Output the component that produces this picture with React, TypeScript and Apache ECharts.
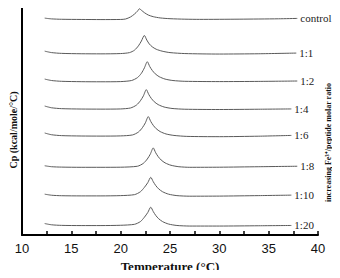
import React, { useEffect, useRef } from "react";
import * as echarts from "echarts";

// Cp traces (arbitrary stacked Cp units), [temperature °C, Cp]
const seriesNames = ["control", "1:1", "1:2", "1:4", "1:6", "1:8", "1:10", "1:20"];

const control: number[][] = [
  [12.3, 22.53], [13.0, 22.45], [14.0, 22.41], [16.0, 22.39], [18.0, 22.38], [20.0, 22.39],
  [20.5, 22.44], [21.0, 22.65], [21.4, 22.95], [21.7, 23.25], [21.9, 23.5], [22.1, 23.35],
  [22.4, 23.1], [22.8, 22.85], [23.3, 22.68], [24.0, 22.55], [25.0, 22.47], [26.5, 22.42],
  [28.0, 22.4], [32.0, 22.42], [36.0, 22.46], [37.9, 22.5],
];
const r1_1: number[][] = [
  [12.3, 19.1], [13.0, 18.95], [14.0, 18.87], [16.0, 18.83], [18.0, 18.82], [20.0, 18.85],
  [20.9, 18.95], [21.4, 19.2], [21.8, 19.65], [22.1, 20.15], [22.4, 20.73], [22.65, 20.25],
  [22.9, 19.85], [23.2, 19.55], [23.6, 19.3], [24.2, 19.1], [25.0, 18.95], [26.5, 18.85],
  [30.0, 18.8], [34.0, 18.83], [37.8, 18.9],
];
const r1_2: number[][] = [
  [12.3, 16.2], [13.0, 16.05], [14.0, 15.97], [16.0, 15.93], [18.0, 15.92], [20.0, 15.94],
  [21.1, 16.05], [21.7, 16.35], [22.1, 16.8], [22.4, 17.35], [22.7, 18.0], [22.95, 17.5],
  [23.2, 17.1], [23.5, 16.75], [23.9, 16.45], [24.5, 16.2], [25.3, 16.05], [26.5, 15.97],
  [30.0, 15.94], [34.0, 15.96], [37.9, 16.0],
];
const r1_4: number[][] = [
  [12.3, 13.4], [13.0, 13.22], [14.0, 13.13], [16.0, 13.09], [18.0, 13.08], [20.0, 13.1],
  [21.0, 13.2], [21.6, 13.5], [22.0, 13.95], [22.3, 14.45], [22.6, 15.1], [22.85, 14.6],
  [23.1, 14.2], [23.4, 13.85], [23.8, 13.55], [24.4, 13.3], [25.2, 13.15], [26.5, 13.07],
  [30.0, 13.04], [34.0, 13.07], [37.3, 13.1],
];
const r1_6: number[][] = [
  [12.3, 10.6], [13.0, 10.42], [14.0, 10.33], [16.0, 10.29], [18.0, 10.28], [20.0, 10.3],
  [21.2, 10.4], [21.8, 10.7], [22.2, 11.15], [22.5, 11.65], [22.8, 12.3], [23.05, 11.8],
  [23.3, 11.4], [23.6, 11.05], [24.0, 10.75], [24.6, 10.5], [25.4, 10.35], [26.7, 10.25],
  [30.0, 10.22], [34.0, 10.27], [37.3, 10.35],
];
const r1_8: number[][] = [
  [12.3, 7.2], [13.0, 7.1], [14.0, 7.06], [16.0, 7.04], [18.0, 7.04], [20.0, 7.05],
  [21.7, 7.15], [22.3, 7.45], [22.7, 7.9], [23.0, 8.4], [23.3, 9.05], [23.55, 8.55],
  [23.8, 8.15], [24.1, 7.8], [24.5, 7.5], [25.1, 7.25], [25.9, 7.1], [27.0, 7.04],
  [30.0, 7.05], [34.0, 7.1], [37.9, 7.15],
];
const r1_10: number[][] = [
  [12.3, 4.25], [13.0, 4.14], [14.0, 4.09], [16.0, 4.07], [18.0, 4.07], [20.0, 4.1],
  [21.4, 4.2], [22.0, 4.5], [22.4, 4.95], [22.75, 5.45], [23.05, 6.0], [23.3, 5.55],
  [23.55, 5.15], [23.85, 4.8], [24.25, 4.5], [24.85, 4.25], [25.7, 4.1], [27.0, 4.04],
  [30.0, 4.05], [34.0, 4.1], [37.3, 4.15],
];
const r1_20: number[][] = [
  [12.3, 1.2], [13.0, 1.07], [14.0, 1.01], [16.0, 0.99], [18.0, 0.99], [20.0, 1.02],
  [21.4, 1.12], [22.0, 1.4], [22.4, 1.85], [22.75, 2.35], [23.05, 2.9], [23.3, 2.45],
  [23.55, 2.05], [23.85, 1.7], [24.25, 1.4], [24.85, 1.15], [25.7, 1.0], [27.0, 0.94],
  [30.0, 0.94], [34.0, 0.97], [37.3, 1.0],
];
const seriesData = [control, r1_1, r1_2, r1_4, r1_6, r1_8, r1_10, r1_20];

const xTicks = [10, 15, 20, 25, 30, 35, 40];

export default function App() {
  const ref = useRef<HTMLDivElement>(null);
  useEffect(() => {
    if (!ref.current) return;
    const chart = echarts.init(ref.current, undefined, { renderer: "svg" });
    const serif = "'Liberation Serif', 'Times New Roman', serif";
    const hiddenX = (gridIndex: number) => ({ type: "value", gridIndex, show: false, min: 0, max: 1 });
    const nameOnlyY = (gridIndex: number, position: string, name: string, fontSize: number, nameGap: number) => ({
      type: "value",
      gridIndex,
      position,
      min: 0,
      max: 1,
      name,
      nameLocation: "middle",
      nameRotate: 90,
      nameGap,
      nameTextStyle: { color: "#111", fontFamily: serif, fontWeight: "bold", fontSize },
      axisLine: { show: false },
      axisTick: { show: false },
      axisLabel: { show: false },
      splitLine: { show: false },
    });
    chart.setOption({
      animation: false,
      backgroundColor: "#ffffff",
      grid: [
        { left: 22, right: 22, top: 3, bottom: 34, containLabel: false },
        { left: 22, right: 22, top: 73, bottom: 66, containLabel: false },
        { left: 22, right: 22, top: 17, bottom: 35, containLabel: false },
      ],
      xAxis: [
        {
          type: "value",
          gridIndex: 0,
          min: xTicks[0],
          max: xTicks[xTicks.length - 1],
          interval: 5,
          name: "Temperature (°C)",
          nameLocation: "middle",
          nameGap: 20,
          nameTextStyle: { color: "#111", fontFamily: serif, fontWeight: "bold", fontSize: 13 },
          axisLine: { show: true, lineStyle: { color: "#000", width: 2 } },
          axisTick: { show: true, inside: true, length: 4, lineStyle: { color: "#000", width: 1.5 } },
          minorTick: { show: true, splitNumber: 2, length: 4, lineStyle: { color: "#000", width: 1.5 } },
          axisLabel: {
            color: "#111",
            fontFamily: "'Liberation Sans', Arial, sans-serif",
            fontSize: 13,
            margin: 7,
          },
          splitLine: { show: false },
          minorSplitLine: { show: false },
        },
        hiddenX(1),
        hiddenX(2),
      ],
      yAxis: [
        {
          type: "value",
          gridIndex: 0,
          min: 0,
          max: 24.1,
          axisLine: { show: true, onZero: false, lineStyle: { color: "#000", width: 2 } },
          axisTick: { show: false },
          axisLabel: { show: false },
          splitLine: { show: false },
        },
        nameOnlyY(1, "right", "increasing Fe³⁺/peptide molar ratio", 8, 8),
        nameOnlyY(2, "left", "Cp (kcal/mole/°C)", 10, 7),
      ],
      series: seriesNames.map((name, i) => ({
        name,
        type: "line",
        xAxisIndex: 0,
        yAxisIndex: 0,
        data: seriesData[i],
        showSymbol: false,
        smooth: 0.25,
        lineStyle: { color: "#5a5a5a", width: 1 },
        endLabel: {
          show: true,
          formatter: name,
          distance: 3,
          color: "#222",
          fontFamily: serif,
          fontSize: 11,
        },
      })),
    });
    return () => chart.dispose();
  }, []);
  return <div ref={ref} style={{ width: 340, height: 278, margin: -8 }} />;
}
